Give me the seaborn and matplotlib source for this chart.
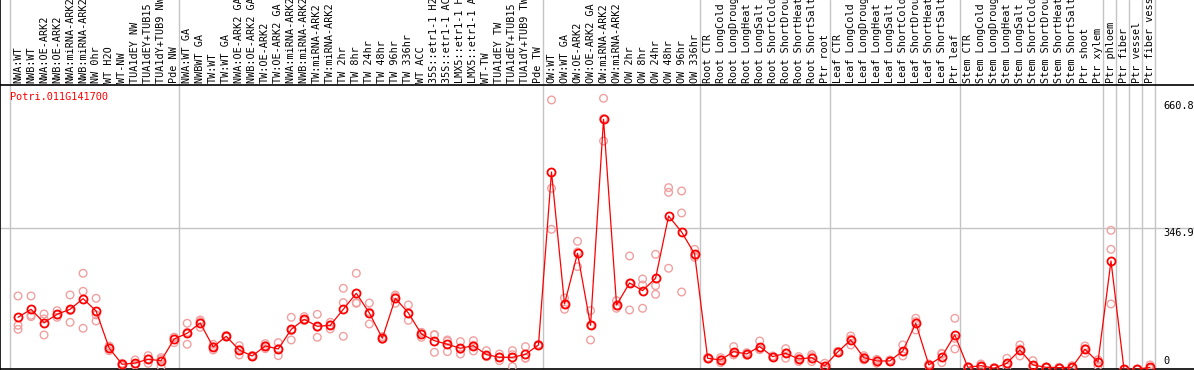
import numpy as np
import pandas as pd
import matplotlib
matplotlib.use("Agg")
import matplotlib.pyplot as plt
import seaborn as sns

gene = "Potri.011G141700"

categories = [
    "NWA:WT", "NWB:WT", "NWA:OE-ARK2", "NWB:OE-ARK2", "NWA:miRNA-ARK2", "NWB:miRNA-ARK2",
    "NW 0hr", "WT H2O", "WT-NW", "TUA1dEY NW", "TUA1dEY+TUB15 NW", "TUA1dY+TUB9 NW", "Pde NW",
    "NWA:WT GA", "NWBWT GA", "TW:WT", "TW:WT GA", "NWA:OE-ARK2 GA", "NWB:OE-ARK2 GA",
    "TW:OE-ARK2", "TW:OE-ARK2 GA", "NWA:miRNA-ARK2 GA", "NWB:miRNA-ARK2 GA", "TW:miRNA-ARK2",
    "TW:miRNA-ARK2 GA", "TW 2hr", "TW 8hr", "TW 24hr", "TW 48hr", "TW 96hr", "TW 336hr",
    "WT ACC", "35S::etr1-1 H2O", "35S::etr1-1 ACC", "LMX5::etr1-1 H2O", "LMX5::etr1-1 ACC",
    "WT-TW", "TUA1dEY TW", "TUA1dEY+TUB15 TW", "TUA1dY+TUB9 TW", "Pde TW",
    "OW:WT", "OW:WT GA", "OW:OE-ARK2", "OW:OE-ARK2 GA", "OW:miRNA-ARK2", "OW:miRNA-ARK2 GA",
    "OW 2hr", "OW 8hr", "OW 24hr", "OW 48hr", "OW 96hr", "OW 336hr",
    "Root CTR", "Root LongCold", "Root LongDrought", "Root LongHeat", "Root LongSalt",
    "Root ShortCold", "Root ShortDrought", "Root ShortHeat", "Root ShortSalt", "Ptr root",
    "Leaf CTR", "Leaf LongCold", "Leaf LongDrought", "Leaf LongHeat", "Leaf LongSalt",
    "Leaf ShortCold", "Leaf ShortDrought", "Leaf ShortHeat", "Leaf ShortSalt", "Ptr leaf",
    "Stem CTR", "Stem LongCold", "Stem LongDrought", "Stem LongHeat", "Stem LongSalt",
    "Stem ShortCold", "Stem ShortDrought", "Stem ShortHeat", "Stem ShortSalt",
    "Ptr shoot", "Ptr xylem", "Ptr phloem", "Ptr fiber", "Ptr vessel", "Ptr fiber vessel",
]

# mean expression per sample
mean_vals = [
    127.9, 147.6, 114.8, 135.3, 147.6, 173.8, 143.5, 52.5, 12.3, 15.6, 24.6, 21.3, 74.6,
    88.6, 114.0, 54.9, 81.2, 47.6, 32.8, 57.4, 50.0, 98.4, 123.0, 105.8, 108.2, 147.6,
    187.0, 138.6, 76.3, 174.7, 138.6, 86.9, 70.5, 61.5, 51.7, 58.2, 36.1, 29.5, 29.5,
    36.9, 59.9,
    485.4, 160.7, 285.4, 108.2, 615.0, 158.3, 212.4, 193.5, 223.9, 377.2, 337.8, 283.7,
    27.1, 23.0, 43.5, 37.7, 55.8, 31.2, 39.4, 25.4, 28.7, 8.2,
    42.6, 72.2, 28.7, 20.5, 20.5, 45.1, 113.2, 10.7, 31.2, 84.5,
    4.9, 9.0, 2.5, 14.8, 47.6, 10.7, 4.9, 4.1, 4.9, 49.2, 18.0,
    266.5, 0.0, 0.0, 4.9,
]

# individual replicates
rep1 = [
    180.4, 180.4, 136.1, 144.3, 182.9, 236.2, 174.7, 57.4, 12.3, 23.0, 33.6, 28.7, 78.7,
    113.2, 121.4, 61.5, 83.6, 58.2, 31.0, 63.1, 65.6, 127.9, 129.6, 135.3, 115.6, 199.3,
    236.2, 163.2, 80.4, 182.9, 158.3, 91.0, 84.5, 72.2, 68.1, 70.5, 45.9, 37.7, 45.9,
    55.8, 61.5,
    662.6, 175.5, 314.9, 144.3, 666.7, 168.9, 278.8, 222.2, 282.9, 446.9, 438.7, 295.2,
    28.7, 28.7, 55.8, 41.0, 69.7, 32.8, 50.8, 31.2, 36.1, 14.8,
    42.6, 82.0, 33.6, 24.6, 23.0, 59.9, 117.3, 13.1, 39.4, 125.5,
    6.6, 13.1, 4.1, 27.1, 59.9, 21.3, 5.7, 4.9, 9.0, 57.4, 23.0,
    341.9, 0.0, 0.0, 10.7,
]
rep2 = [
    108.2, 132.8, 84.5, 127.9, 115.6, 191.9, 133.7, 45.9, 9.0, 10.7, 14.8, 6.6, 65.6,
    61.5, 117.3, 47.6, 80.4, 35.3, 33.0, 50.8, 33.6, 72.2, 119.7, 78.7, 99.2, 164.0,
    164.0, 111.5, 73.8, 178.8, 120.5, 78.7, 41.8, 43.5, 37.7, 45.1, 31.2, 21.3, 6.6,
    27.1, 59.9,
    445.3, 147.6, 252.6, 72.2, 561.7, 150.1, 146.0, 207.5, 205.8, 435.4, 384.6, 280.4,
    25.4, 16.4, 39.4, 34.4, 49.2, 31.2, 27.1, 18.9, 18.9, 2.5,
    44.3, 59.9, 23.0, 14.8, 18.9, 32.8, 96.8, 8.2, 16.4, 76.3,
    3.3, 8.2, 1.6, 4.9, 32.8, 2.5, 4.9, 4.1, 2.5, 39.4, 8.2,
    295.2, 0.0, 0.0, 2.5,
]
rep3 = [
    98.4, 129.6, 123.8, 133.7, 144.3, 100.9, 118.9, 54.1, 14.8, 13.1, 25.4, 24.6, 78.7,
    91.0, 103.3, 55.8, 79.5, 49.2, 34.0, 58.2, 50.8, 95.1, 121.4, 103.3, 109.1, 81.2,
    162.4, 141.0, 74.6, 162.4, 136.9, 90.2, 85.3, 68.9, 49.2, 59.0, 31.2, 29.5, 36.1,
    27.9, 58.2,
    344.4, 159.1, 288.6, 108.2, 616.6, 155.8, 212.4, 150.1, 184.5, 248.5, 190.2, 275.5,
    27.1, 23.8, 35.3, 37.7, 48.4, 29.5, 40.2, 26.2, 31.2, 7.4,
    41.0, 74.6, 29.5, 22.1, 19.7, 42.6, 125.5, 10.7, 37.7, 50.0,
    4.9, 5.7, 1.6, 12.3, 50.0, 8.2, 4.1, 3.3, 3.3, 50.8, 23.0,
    160.7, 0.0, 0.0, 1.6,
]

# group separators drawn after these sample indices
group_ends = [-1, 12, 40, 52, 62, 72, 83, 84, 85, 86, 87]
y_ticks = [0, 346.9, 660.8]

pos = np.arange(len(categories))
means_df = pd.DataFrame({"pos": pos, "value": mean_vals})
reps_df = pd.DataFrame({
    "pos": np.tile(pos, 3),
    "value": rep1 + rep2 + rep3,
})

sns.set_style("white")
plt.rcParams["font.family"] = ["DejaVu Sans Mono", "DejaVu Sans"]

fig = plt.figure(figsize=(11.94, 3.70), dpi=100)
ax_lab = fig.add_axes([0, 285 / 370, 1, 85 / 370])
ax = fig.add_axes([0, 0.7 / 370, 1, 284.3 / 370], sharex=ax_lab)

xlim = (-1.385, 90.38)
grid_col = "#c4c4c4"

# replicates
sns.scatterplot(data=reps_df, x="pos", y="value", ax=ax, marker="o",
                facecolor="none", edgecolor="#f0a0a0", linewidth=1.0, s=30,
                legend=False, zorder=3)
# mean line
sns.lineplot(data=means_df, x="pos", y="value", ax=ax, color="red", linewidth=0.9,
             marker="o", markersize=5.8, markerfacecolor="none",
             markeredgecolor="red", markeredgewidth=1.3, zorder=4)

for k in group_ends:
    ax.axvline(k + 0.38, color=grid_col, linewidth=1, zorder=1)
    ax_lab.axvline(k + 0.38, color=grid_col, linewidth=1, zorder=1)
ax.axhline(y_ticks[1], color=grid_col, linewidth=1, zorder=1)

ax.set_xlim(*xlim)
ax.set_ylim(0, 699.4)
ax.set_xticks([])
ax.set_yticks([])
ax.set_xlabel("")
ax.set_ylabel("")
for side in ["left", "top", "bottom"]:
    ax.spines[side].set_visible(True)
    ax.spines[side].set_color("black")
    ax.spines[side].set_linewidth(1.2)
ax.spines["right"].set_visible(False)

ax.text(88.0, y_ticks[2], "660.8", ha="left", va="top", fontsize=7.4, color="black")
ax.text(88.0, y_ticks[1], "346.9", ha="left", va="top", fontsize=7.4, color="black")
ax.text(88.0, 8, "0", ha="left", va="bottom", fontsize=7.4, color="black")
ax.text(-0.6, 695 - 12, gene, ha="left", va="top", fontsize=7.4, color="red")

# sample labels above the plot
ax_lab.set_ylim(0, 85)
ax_lab.set_yticks([])
ax_lab.tick_params(axis="x", bottom=False, labelbottom=False)
for side in ["top", "right", "bottom"]:
    ax_lab.spines[side].set_visible(False)
ax_lab.spines["left"].set_color("black")
ax_lab.spines["left"].set_linewidth(1.2)
for p, name in zip(pos, categories):
    ax_lab.text(p, 2, name, rotation=90, ha="center", va="bottom",
                fontsize=7.3, color="black", clip_on=False)

fig.savefig("out.png", dpi=100)
